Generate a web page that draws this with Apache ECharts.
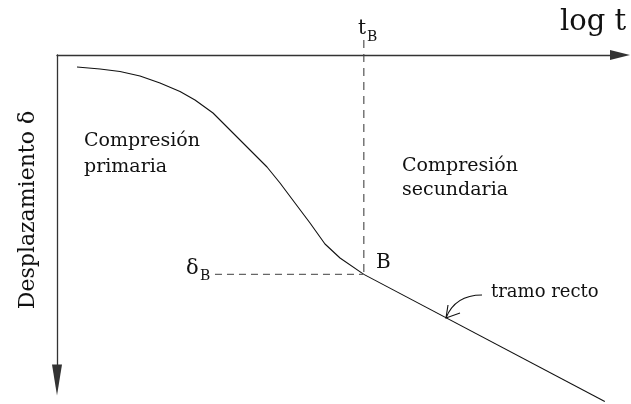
<!DOCTYPE html>
<html>
<head>
<meta charset="utf-8">
<script src="https://cdn.jsdelivr.net/npm/echarts@6/dist/echarts.min.js"></script>
<style>
  html, body { margin: 0; padding: 0; background: #fff; }
  #chart { width: 631px; height: 404px; }
</style>
</head>
<body>
<div id="chart"></div>
<script>
// Consolidation curve: displacement δ against log t (schematic units 0–100)
const primaryLogT = [3.55, 7.64, 11.19, 14.74, 18.29, 21.85, 24.51, 27.71, 31.26, 34.28, 37.30, 39.61, 42.27, 44.94, 47.60, 50.27, 54.5];
const primaryDelta = [3.69, 4.31, 5.08, 6.46, 8.62, 11.23, 13.85, 17.85, 24.0, 29.23, 34.46, 39.38, 45.54, 51.69, 58.15, 62.46, 67.5];
// straight secondary branch ("tramo recto") from point B onward
const secondaryLogT = [54.5, 97.3];
const secondaryDelta = [67.5, 106.6];
// point B and its guide lines
const tB = 54.5;
const deltaB = 67.5;
const guideTop = -4.6;      // vertical guide starts just above the time axis
const guideLeft = 28.06;    // horizontal guide starts right of the δB label

const zip = (xs, ys) => xs.map((x, i) => [x, ys[i]]);

const serif = '"DejaVu Serif", "Liberation Serif", serif';
const ink = '#111';

const chart = echarts.init(document.getElementById('chart'));
chart.setOption({
  animation: false,
  backgroundColor: '#fff',
  grid: { left: 57, top: 55, right: 11, bottom: 24 },
  xAxis: {
    type: 'value', position: 'top', min: 0, max: 100,
    axisLine: { onZero: false, lineStyle: { color: '#333', width: 1.3 },
      symbol: ['none', 'triangle'], symbolSize: [10, 20] },
    axisTick: { show: false }, axisLabel: { show: false }, splitLine: { show: false }
  },
  yAxis: {
    type: 'value', inverse: true, min: 0, max: 100,
    // the axis is inverted, so the first symbol sits at the bottom end
    axisLine: { onZero: false, lineStyle: { color: '#333', width: 1.3 },
      symbol: ['triangle', 'none'], symbolSize: [10, 31] },
    axisTick: { show: false }, axisLabel: { show: false }, splitLine: { show: false }
  },
  series: [
    {
      type: 'line', data: zip(primaryLogT, primaryDelta), smooth: false,
      symbol: 'none', clip: false, lineStyle: { color: ink, width: 1.1, join: 'round' }
    },
    {
      type: 'line', data: zip(secondaryLogT, secondaryDelta),
      symbol: 'none', clip: false, lineStyle: { color: ink, width: 1.1 }
    },
    {
      type: 'line', data: [[tB, guideTop], [tB, deltaB]],
      symbol: 'none', clip: false,
      lineStyle: { color: '#444', width: 1.1, type: [8, 6] }
    },
    {
      type: 'line', data: [[guideLeft, deltaB], [tB, deltaB]],
      symbol: 'none', clip: false,
      lineStyle: { color: '#666', width: 1.3, type: [7, 5] }
    }
  ],
  graphic: [
    { type: 'text', style: { text: 'log t', x: 560, y: 22, font: '29px ' + serif, fill: ink, textVerticalAlign: 'middle' } },
    { type: 'text', style: { text: 't', x: 358, y: 29, font: '20px ' + serif, fill: ink, textVerticalAlign: 'middle' } },
    { type: 'text', style: { text: 'B', x: 367, y: 37, font: '14px ' + serif, fill: ink, textVerticalAlign: 'middle' } },
    { type: 'text', style: { text: 'δ', x: 186, y: 269, font: '21px ' + serif, fill: ink, textVerticalAlign: 'middle' } },
    { type: 'text', style: { text: 'B', x: 200, y: 276, font: '14px ' + serif, fill: ink, textVerticalAlign: 'middle' } },
    { type: 'text', style: { text: 'B', x: 376, y: 263, font: '20px ' + serif, fill: ink, textVerticalAlign: 'middle' } },
    { type: 'text', style: { text: 'Compresión', x: 84, y: 141, font: '19px ' + serif, fill: ink, textVerticalAlign: 'middle' } },
    { type: 'text', style: { text: 'primaria', x: 84, y: 167, font: '19px ' + serif, fill: ink, textVerticalAlign: 'middle' } },
    { type: 'text', style: { text: 'Compresión', x: 402, y: 166, font: '19px ' + serif, fill: ink, textVerticalAlign: 'middle' } },
    { type: 'text', style: { text: 'secundaria', x: 402, y: 190, font: '19px ' + serif, fill: ink, textVerticalAlign: 'middle' } },
    { type: 'text', style: { text: 'tramo recto', x: 491, y: 292, font: '18px ' + serif, fill: ink, textVerticalAlign: 'middle' } },
    { type: 'text', x: 28, y: 210, rotation: Math.PI / 2,
      style: { text: 'Desplazamiento δ', x: 0, y: 0, font: '22px ' + serif, fill: ink, textAlign: 'center', textVerticalAlign: 'middle' } },
    // pointer to the straight branch
    { type: 'bezierCurve', shape: { x1: 482, y1: 295, cpx1: 455, cpy1: 295, x2: 446, y2: 318 },
      style: { stroke: ink, lineWidth: 1.1, fill: null } },
    { type: 'polyline', shape: { points: [[448, 305], [446, 318], [460, 313]] },
      style: { stroke: ink, lineWidth: 1.1, fill: null } }
  ]
});
</script>
</body>
</html>
